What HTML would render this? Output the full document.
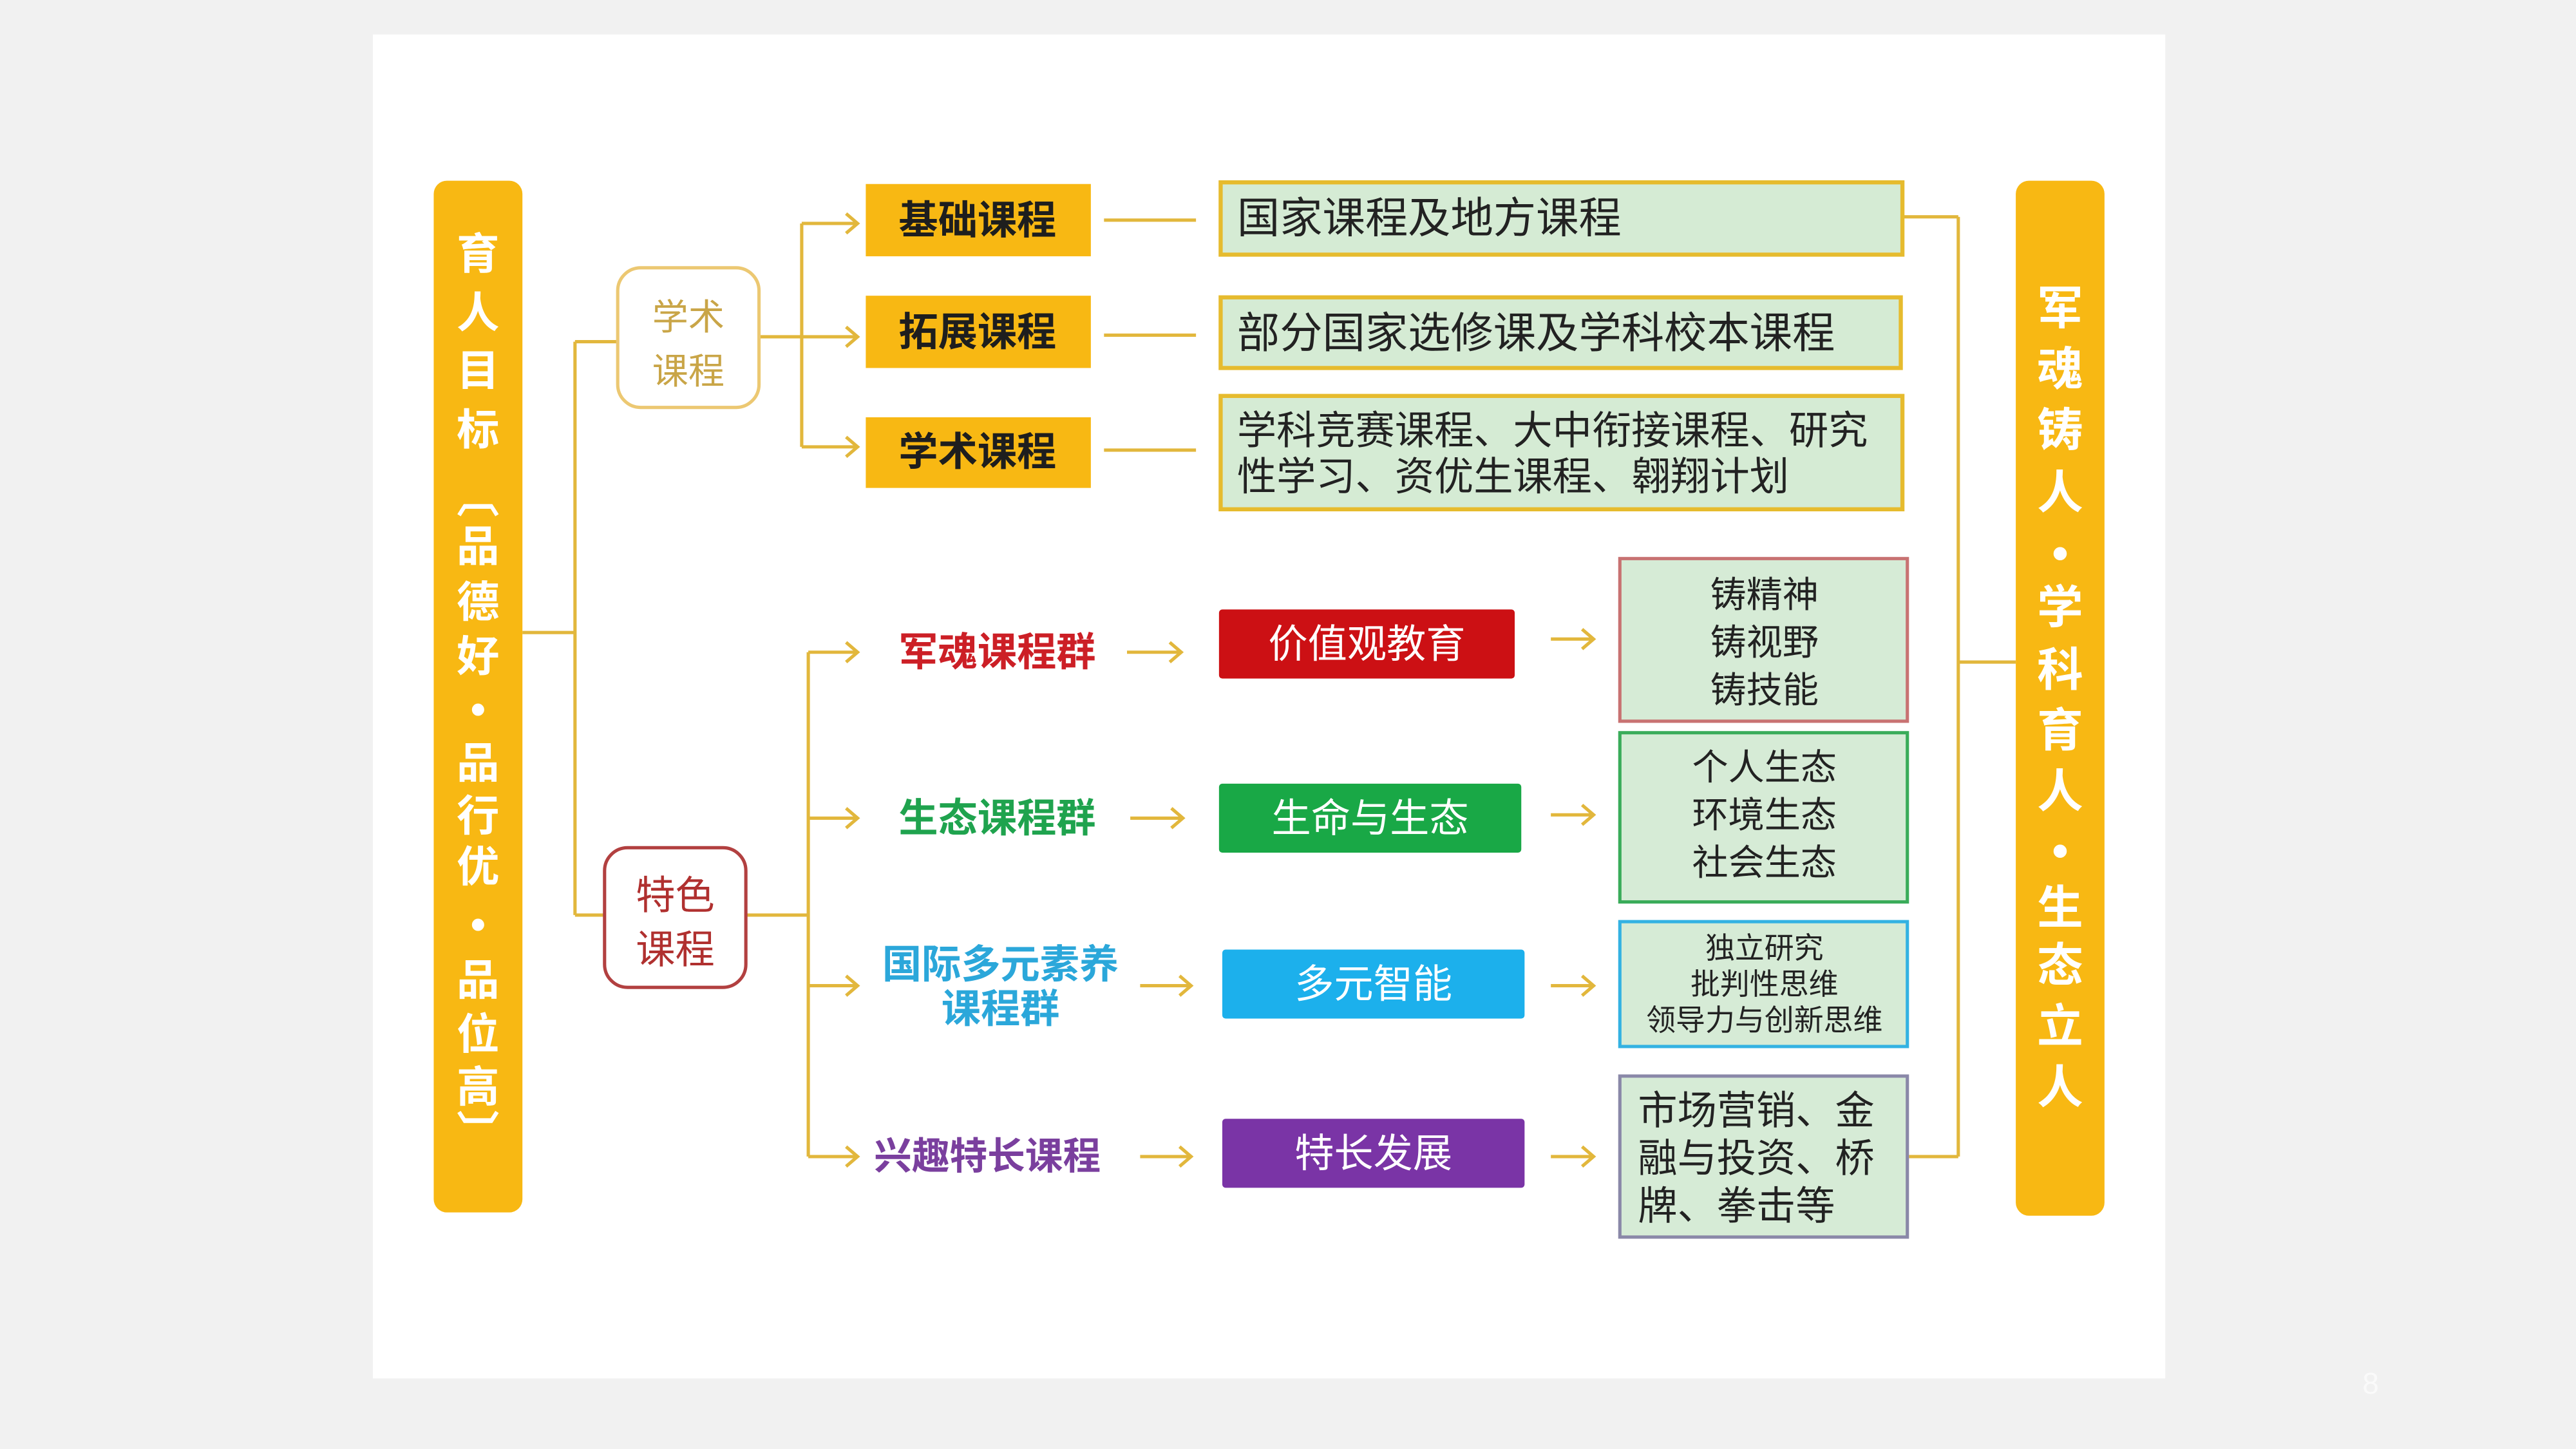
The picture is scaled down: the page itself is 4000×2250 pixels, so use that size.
<!DOCTYPE html>
<html><head><meta charset="utf-8"><style>
html,body{margin:0;padding:0;background:#f1f1f1;}
svg{display:block;}
text{font-family:"Liberation Sans","Noto Sans CJK SC",sans-serif;dominant-baseline:central;}
</style></head><body>
<svg width="4000" height="2250" viewBox="0 0 1568 882" xmlns="http://www.w3.org/2000/svg">
<rect x="0" y="0" width="1568" height="882" fill="#f1f1f1"/>
<rect x="227" y="21" width="1091" height="818" fill="#ffffff"/>

<g stroke="#e2b73c" stroke-width="2" fill="none">
<path d="M318 385 H350 M350 208 V557 M350 208 H376 M350 557 H368"/>
<path d="M462 205 H488 M488 136 V272 M488 136 H522 M488 205 H522 M488 272 H522"/>
<path d="M515 130 L522 136 L515 142 M515 199 L522 205 L515 211 M515 266 L522 272 L515 278"/>
<path d="M454 557 H492 M492 397 V704 M492 397 H522 M492 498 H522 M492 600 H522 M492 704 H522"/>
<path d="M515 391 L522 397 L515 403 M515 492 L522 498 L515 504 M515 594 L522 600 L515 606 M515 698 L522 704 L515 710"/>
<path d="M672 134 H728 M672 204 H728 M672 274 H728"/>
<path d="M686 397 H719 M712 391 L719 397 L712 403"/>
<path d="M688 498 H720 M713 492 L720 498 L713 504"/>
<path d="M694 600 H725 M718 594 L725 600 L718 606"/>
<path d="M694 704 H725 M718 698 L725 704 L718 710"/>
<path d="M944 389 H970 M963 383 L970 389 L963 395"/>
<path d="M944 496 H970 M963 490 L970 496 L963 502"/>
<path d="M944 600 H970 M963 594 L970 600 L963 606"/>
<path d="M944 704 H970 M963 698 L970 704 L963 710"/>
<path d="M1158 132 H1192 M1192 132 V704 M1162 704 H1192 M1192 403 H1227"/>
</g>

<rect x="264" y="110" width="54" height="628" rx="8" fill="#f8b813"/>
<g fill="#fff" font-size="26" font-weight="bold" text-anchor="middle">
<text x="291" y="155">育</text><text x="291" y="191">人</text><text x="291" y="226">目</text><text x="291" y="262">标</text>
<text x="291" y="303">︹</text><text x="291" y="333">品</text><text x="291" y="367">德</text><text x="291" y="400">好</text>
<text x="291" y="432">•</text><text x="291" y="465">品</text><text x="291" y="497">行</text><text x="291" y="528">优</text>
<text x="291" y="563">•</text><text x="291" y="597">品</text><text x="291" y="630">位</text><text x="291" y="662">高</text>
<text x="291" y="690">︺</text>
</g>
<rect x="1227" y="110" width="54" height="630" rx="8" fill="#f8b813"/>
<g fill="#fff" font-size="28" font-weight="bold" text-anchor="middle">
<text x="1254" y="188">军</text><text x="1254" y="225">魂</text><text x="1254" y="262">铸</text><text x="1254" y="300">人</text>
<text x="1254" y="337">•</text><text x="1254" y="370">学</text><text x="1254" y="408">科</text><text x="1254" y="445">育</text>
<text x="1254" y="482">人</text><text x="1254" y="518">•</text><text x="1254" y="553">生</text><text x="1254" y="588">态</text><text x="1254" y="625">立</text><text x="1254" y="662">人</text>
</g>

<rect x="376" y="163" width="86" height="85" rx="14" fill="#fff" stroke="#ecc872" stroke-width="2"/>
<g fill="#c9a547" font-size="22" text-anchor="middle"><text x="419" y="193">学术</text><text x="419" y="226">课程</text></g>
<rect x="368" y="516" width="86" height="85" rx="14" fill="#fff" stroke="#b24040" stroke-width="2"/>
<g fill="#b0302f" font-size="24" text-anchor="middle"><text x="411" y="545">特色</text><text x="411" y="578">课程</text></g>

<g fill="#f8b813"><rect x="527" y="112" width="137" height="44"/><rect x="527" y="180" width="137" height="44"/><rect x="527" y="254" width="137" height="43"/></g>
<g fill="#1e1e1e" font-size="24" font-weight="bold" text-anchor="middle">
<text x="595" y="134">基础课程</text><text x="595" y="202">拓展课程</text><text x="595" y="275">学术课程</text></g>

<g fill="#d5ebd4" stroke="#e6bb2e" stroke-width="2.5">
<rect x="743" y="111" width="415" height="44"/><rect x="743" y="181" width="414" height="43"/><rect x="743" y="241" width="415" height="69"/></g>
<g fill="#222" font-size="26">
<text x="753" y="133">国家课程及地方课程</text>
<text x="753" y="203">部分国家选修课及学科校本课程</text>
<text x="753" y="262" font-size="24">学科竞赛课程、大中衔接课程、研究</text>
<text x="753" y="290" font-size="24">性学习、资优生课程、翱翔计划</text></g>

<g font-size="23" font-weight="bold" text-anchor="middle">
<text x="607" y="397" fill="#cc1f26" font-size="24">军魂课程群</text>
<text x="607" y="498" fill="#1fa34e" font-size="24">生态课程群</text>
<text x="609" y="587" fill="#2ba7da" font-size="24">国际多元素养</text>
<text x="609" y="614" fill="#2ba7da" font-size="24">课程群</text>
<text x="601" y="704" fill="#7a3f9e">兴趣特长课程</text></g>

<rect x="742" y="371" width="180" height="42" rx="2" fill="#cc1014"/>
<rect x="742" y="477" width="184" height="42" rx="2" fill="#19a846"/>
<rect x="744" y="578" width="184" height="42" rx="2" fill="#1cb0ec"/>
<rect x="744" y="681" width="184" height="42" rx="2" fill="#7a34a6"/>
<g fill="#fff" font-size="24" text-anchor="middle">
<text x="832" y="392">价值观教育</text><text x="834" y="498">生命与生态</text>
<text x="836" y="599">多元智能</text><text x="836" y="702">特长发展</text></g>

<g fill="#d6ebd6" stroke-width="2">
<rect x="986" y="340" width="175" height="99" stroke="#c87272"/>
<rect x="986" y="446" width="175" height="103" stroke="#3aac5a"/>
<rect x="986" y="561" width="175" height="76" stroke="#33b2e2"/>
<rect x="986" y="655" width="175" height="98" stroke="#8a88a8"/></g>
<g fill="#222" font-size="22" text-anchor="middle">
<text x="1074" y="362">铸精神</text><text x="1074" y="391">铸视野</text><text x="1074" y="420">铸技能</text>
<text x="1074" y="467">个人生态</text><text x="1074" y="496">环境生态</text><text x="1074" y="525">社会生态</text>
<g font-size="18"><text x="1074" y="577">独立研究</text><text x="1074" y="599">批判性思维</text><text x="1074" y="621">领导力与创新思维</text></g></g>
<g fill="#222" font-size="24">
<text x="997" y="676">市场营销、金</text><text x="997" y="705">融与投资、桥</text><text x="997" y="734">牌、拳击等</text></g>

<text x="1443" y="842" fill="#fafafa" font-size="18" text-anchor="middle">8</text>
</svg>
</body></html>
